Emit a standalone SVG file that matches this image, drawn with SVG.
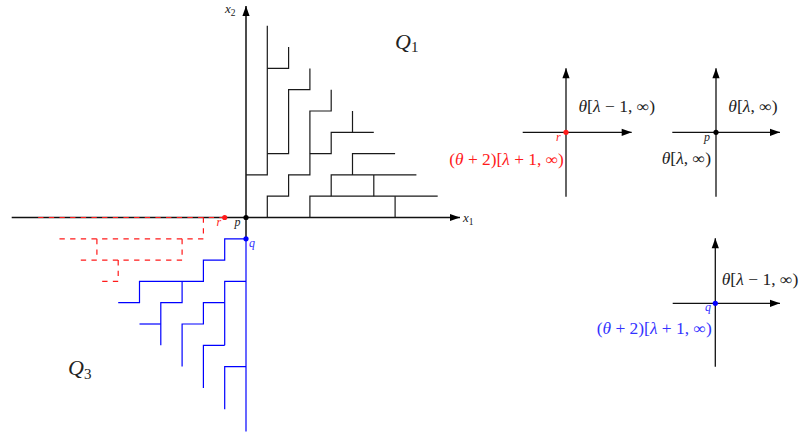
<svg xmlns="http://www.w3.org/2000/svg" width="800" height="435" viewBox="0 0 800 435">
<defs>
<marker id="arr" markerUnits="userSpaceOnUse" markerWidth="10" markerHeight="8" refX="10" refY="3.6" orient="auto" overflow="visible">
<path d="M0,0 L10,3.6 L0,7.2 z" fill="#000"/>
</marker>
<style>
.ax{fill:none;stroke:#111;stroke-width:1.5}
.sax{fill:none;stroke:#111;stroke-width:1.3}
.blk{fill:none;stroke:#1a1a1a;stroke-width:1.2}
.blu{fill:none;stroke:#0000ff;stroke-width:1.2}
.red{fill:none;stroke:#ff1a1a;stroke-width:1.2;stroke-dasharray:5.33 5.33}
text{font-family:"Liberation Serif","DejaVu Serif",serif}
.it{font-style:italic}
.lab{font-size:16px;fill:#222}
.sm{font-size:12px}
.ax-l{font-size:13px}
.big{font-size:22px;fill:#222}
</style>
</defs>
<rect width="800" height="435" fill="#fff"/>

<g id="connectors">
<g id="axes">
<path class="ax" d="M11.7,217.5 H460" marker-end="url(#arr)"/>
<path class="ax" d="M246,238.8 V6" marker-end="url(#arr)"/>
</g>
<g id="q1-staircase">
<path class="blk" d="M246,174.9 H267.3 V25.8"/>
<path class="blk" d="M267.3,68.4 H288.6 V47.1"/>
<path class="blk" d="M267.3,153.6 H288.6 V89.7 H309.9 V68.4"/>
<path class="blk" d="M267.3,217.5 V196.2 H288.6 V174.9 H309.9 V111 H331.2 V89.7"/>
<path class="blk" d="M309.9,153.6 H331.2 V132.3 H373.8"/>
<path class="blk" d="M352.5,132.3 V111"/>
<path class="blk" d="M309.9,217.5 V196.2 H437.7"/>
<path class="blk" d="M395.1,217.5 V196.2"/>
<path class="blk" d="M331.2,196.2 V174.9 H416.4"/>
<path class="blk" d="M373.8,196.2 V174.9"/>
<path class="blk" d="M352.5,174.9 V153.6 H395.1"/>
</g>
<g id="red-dashed">
<path class="red" d="M224.7,217.5 H33"/>
<path class="red" d="M203.4,217.5 V238.8 H54.3"/>
<path class="red" d="M182.1,238.8 V260.1 H75.6"/>
<path class="red" d="M96.9,238.8 V260.1"/>
<path class="red" d="M118.2,260.1 V281.4 H96.9"/>
</g>
<g id="q3-staircase">
<path class="blu" d="M246,238.8 V431.5"/>
<path class="blu" d="M246,238.8 H224.7 V260.1 H203.4 V281.4 H139.5 V302.7 H118.2"/>
<path class="blu" d="M182.1,281.4 V302.7 H160.8 V345.3"/>
<path class="blu" d="M160.8,324 H139.5"/>
<path class="blu" d="M246,281.4 H224.7 V345.3"/>
<path class="blu" d="M224.7,302.7 H203.4 V324 H182.1 V366.6"/>
<path class="blu" d="M224.7,345.3 H203.4 V387.9"/>
<path class="blu" d="M246,366.6 H224.7 V409.2"/>
</g>
</g>

<g id="main-points">
<circle cx="246" cy="217.5" r="2.6" fill="#000"/>
<circle cx="224.7" cy="217.5" r="2.6" fill="#ff1a1a"/>
<circle cx="246" cy="238.8" r="2.6" fill="#0000ff"/>
<text class="it sm" x="234.5" y="225.5" fill="#222">p</text>
<text class="it sm" x="216.5" y="225.5" fill="#ff1a1a">r</text>
<text class="it sm" x="249" y="246.5" fill="#3333ff">q</text>
<text class="ax-l" x="225" y="13" fill="#222"><tspan class="it">x</tspan><tspan font-size="9.5" dy="2.5">2</tspan></text>
<text class="ax-l" x="463" y="222" fill="#222"><tspan class="it">x</tspan><tspan font-size="9.5" dy="2.5">1</tspan></text>
<text class="big" x="395" y="48.5"><tspan class="it">Q</tspan><tspan font-size="15" dy="3.5">1</tspan></text>
<text class="big" x="68" y="375"><tspan class="it">Q</tspan><tspan font-size="15" dy="3.5">3</tspan></text>
</g>

<g id="node-r">
<path class="sax" d="M522.7,132.3 H631.7" marker-end="url(#arr)"/>
<path class="sax" d="M566,196.7 V68.3" marker-end="url(#arr)"/>
<circle cx="566" cy="132.3" r="2.6" fill="#ff1a1a"/>
<text class="it sm" x="556" y="140.5" fill="#ff1a1a">r</text>
<text class="lab" x="578.5" y="111.7" textLength="76.5" lengthAdjust="spacingAndGlyphs"><tspan class="it">θ</tspan>[<tspan class="it">λ</tspan> − 1, ∞)</text>
<text class="lab" x="449.3" y="164.5" style="fill:#ff1a1a" textLength="114.5" lengthAdjust="spacingAndGlyphs">(<tspan class="it">θ</tspan> + 2)[<tspan class="it">λ</tspan> + 1, ∞)</text>
</g>

<g id="node-p">
<path class="sax" d="M672.3,132.3 H780" marker-end="url(#arr)"/>
<path class="sax" d="M716,196.7 V68.3" marker-end="url(#arr)"/>
<circle cx="716" cy="132.3" r="2.6" fill="#000"/>
<text class="it sm" x="704" y="140.5" fill="#222">p</text>
<text class="lab" x="728.3" y="112" textLength="49.4" lengthAdjust="spacingAndGlyphs"><tspan class="it">θ</tspan>[<tspan class="it">λ</tspan>, ∞)</text>
<text class="lab" x="661.7" y="164" textLength="49.3" lengthAdjust="spacingAndGlyphs"><tspan class="it">θ</tspan>[<tspan class="it">λ</tspan>, ∞)</text>
</g>

<g id="node-q">
<path class="sax" d="M672.7,303.3 H780" marker-end="url(#arr)"/>
<path class="sax" d="M715.3,366.7 V238.3" marker-end="url(#arr)"/>
<circle cx="715.3" cy="303.3" r="2.6" fill="#0000ff"/>
<text class="it sm" x="705" y="310.5" fill="#3333ff">q</text>
<text class="lab" x="721.7" y="285" textLength="76.6" lengthAdjust="spacingAndGlyphs"><tspan class="it">θ</tspan>[<tspan class="it">λ</tspan> − 1, ∞)</text>
<text class="lab" x="596.7" y="334" style="fill:#3333ff" textLength="115" lengthAdjust="spacingAndGlyphs">(<tspan class="it">θ</tspan> + 2)[<tspan class="it">λ</tspan> + 1, ∞)</text>
</g>
</svg>
